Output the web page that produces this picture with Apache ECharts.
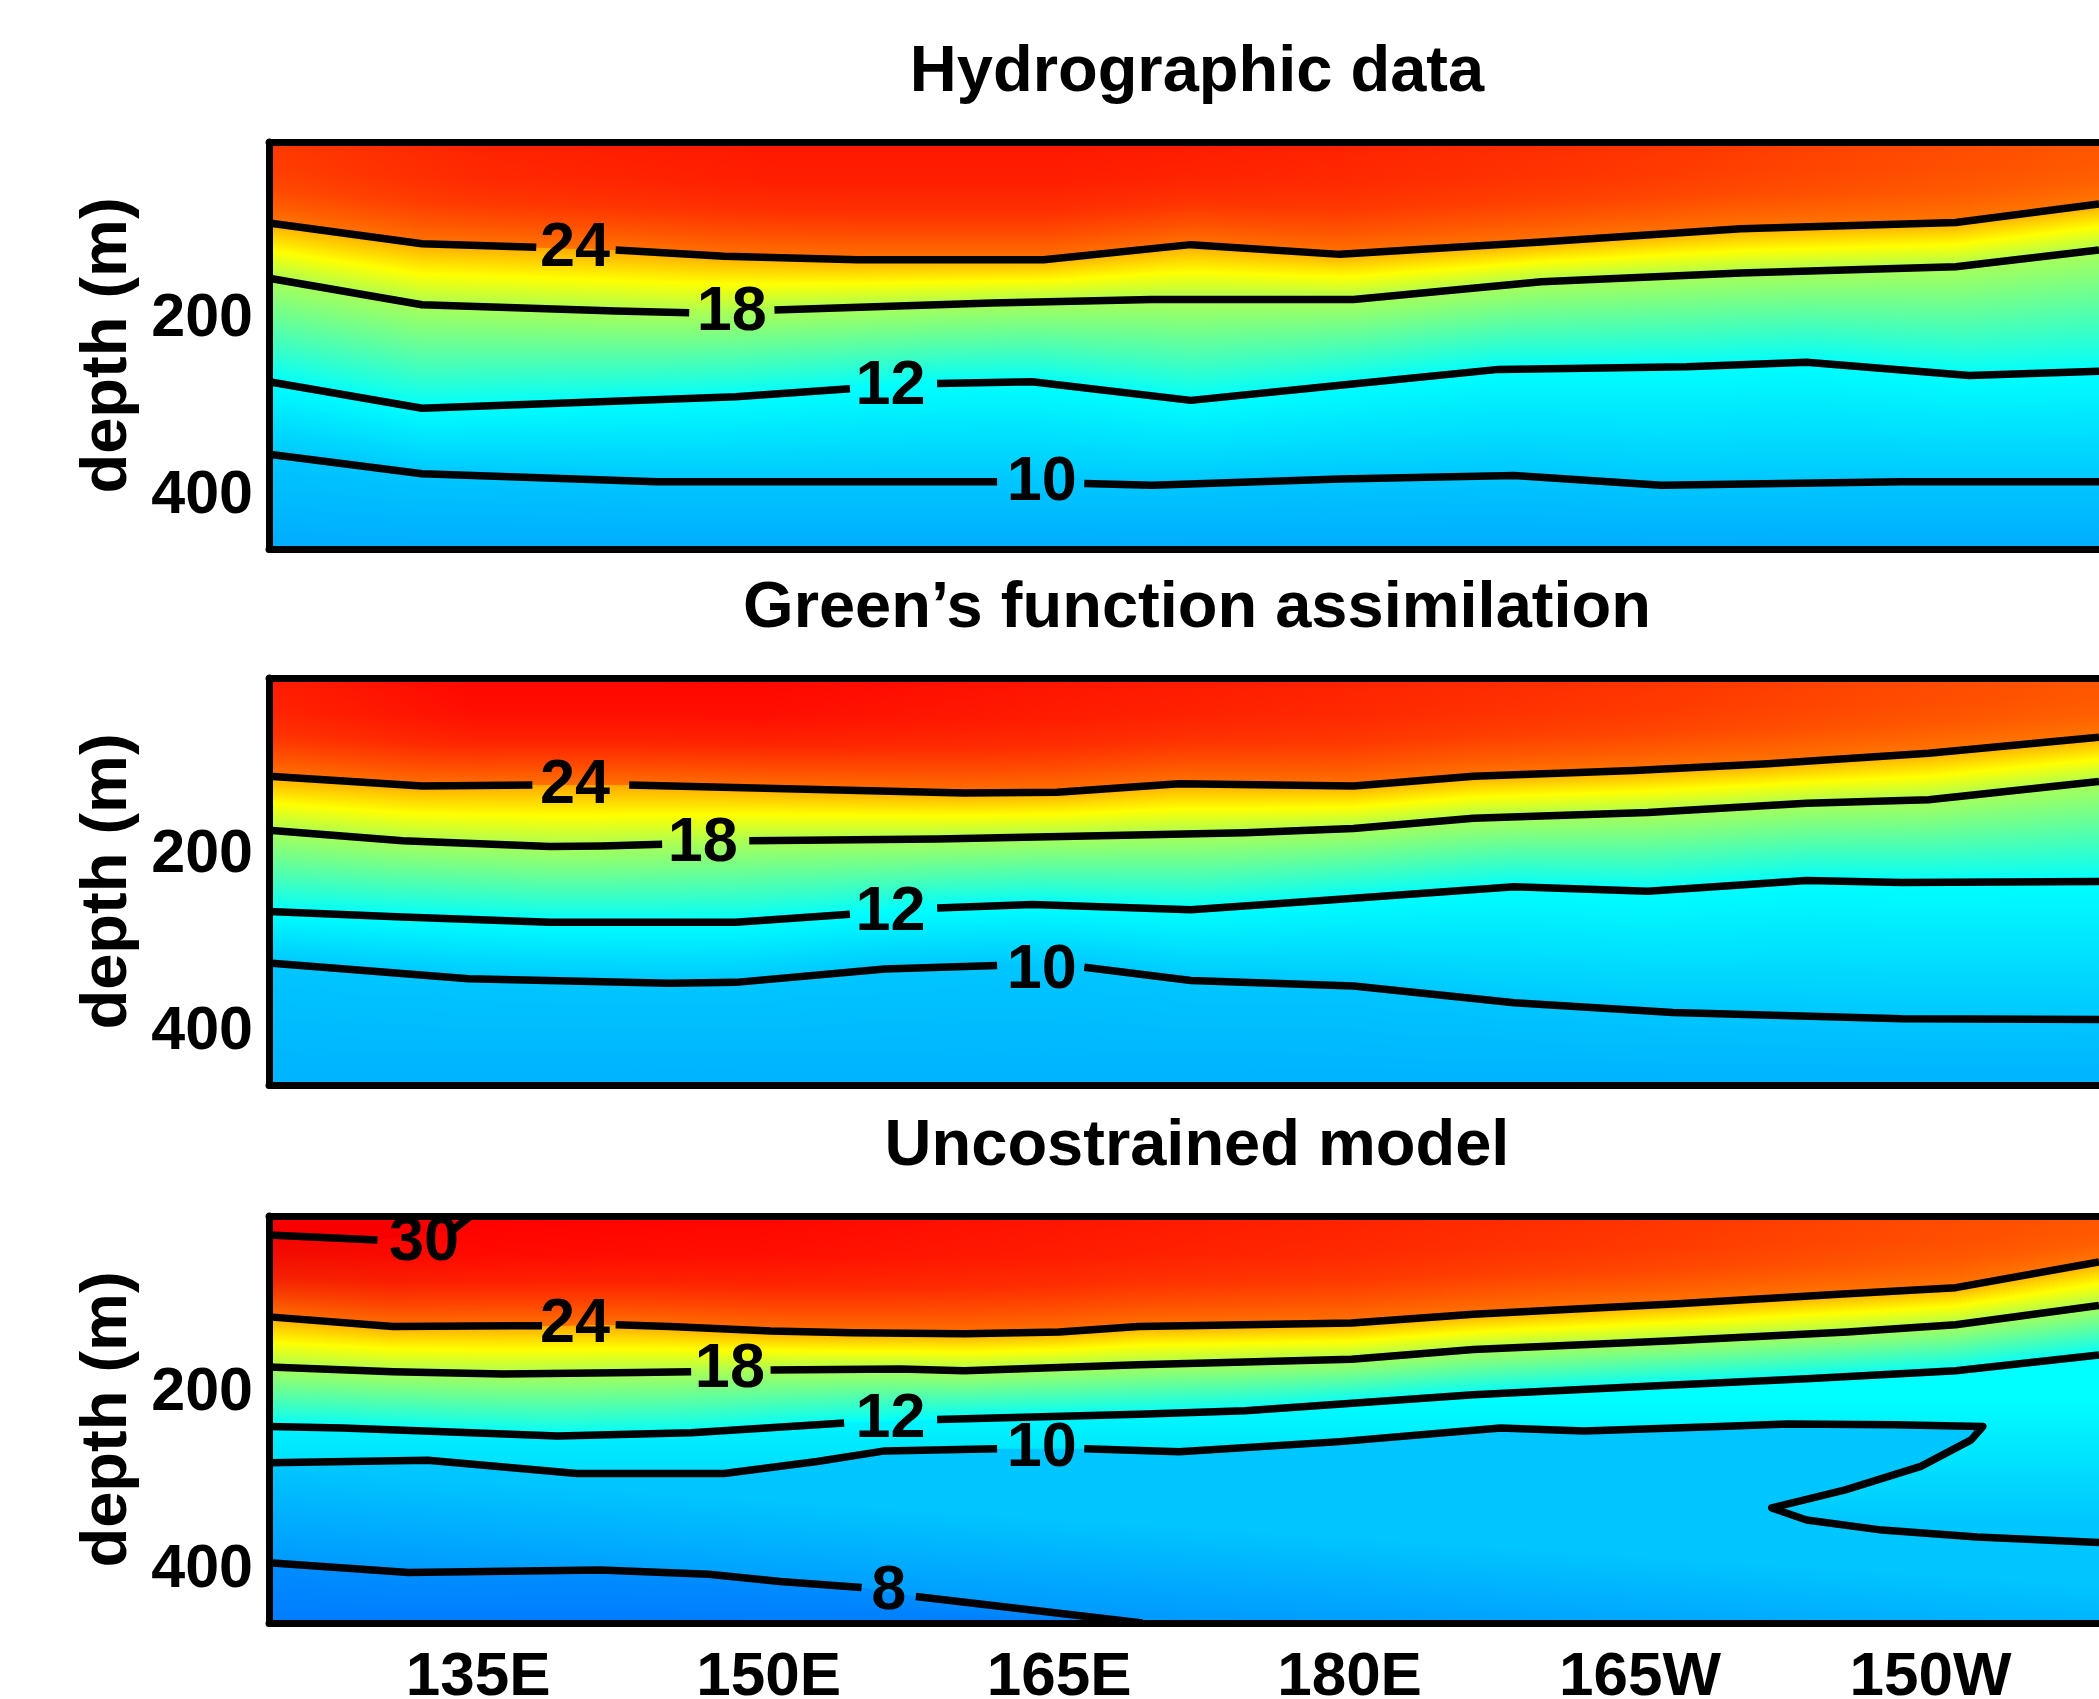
<!DOCTYPE html>
<html>
<head>
<meta charset="utf-8">
<script src="https://cdn.jsdelivr.net/npm/echarts@6/dist/echarts.min.js"></script>
<style>
html,body{margin:0;padding:0;background:#ffffff;}
#chart{width:2099px;height:1699px;}
</style>
</head>
<body>
<div id="chart"></div>
<script>
// ---------------- data ----------------
const LON_MIN = 124.2, LON_MAX = 218.7, DEPTH_MAX = 460;
const xTickValues = [135, 150, 165, 180, 195, 210];
const xTickLabels = ['135E', '150E', '165E', '180E', '165W', '150W'];
const depthTickValues = [200, 400];
const panelTitles = ['Hydrographic data', 'Green\u2019s function assimilation', 'Uncostrained model'];

// surface temperature estimated from the colour along the top edge
const sstLons = [124.2, 135, 150, 165, 180, 195, 210, 218.7];
const p1Sst = [28.0, 28.8, 29.2, 29.2, 28.8, 28.2, 27.4, 27.0];
const p2Sst = [29.0, 29.8, 29.8, 29.3, 28.8, 28.2, 27.4, 27.0];
const p3Sst = [30.5, 30.0, 29.8, 29.3, 28.8, 28.2, 27.4, 27.0];
// temperature at the bottom edge (460 m)
const p1BottomT = 9.1, p2BottomT = 9.3, p3BottomT = 7.4;

// isotherms: [longitude (deg E), depth (m)]; null = gap under the contour label
const p1Iso24 = [[124.2,91.5],[132.1,115],[138,119],null,[142.1,122],[147.7,129],[154.6,133],[164.2,133],[171.8,116],[179.5,127],[189.9,113],[200.2,98],[211.3,91],[218.7,70]];
const p1Iso18 = [[124.2,154],[132.1,184],[142.1,191],[145.9,193],null,[150.3,190],[161.5,182],[169.8,178],[180.2,178],[189.9,158],[200.2,148],[211.3,141],[218.7,122]];
const p1Iso12 = [[124.2,271],[132.1,301],[148.3,288],[154.2,279],null,[158.7,273],[163.6,271],[171.8,292],[179.5,275],[187.7,257],[197.4,254],[203.6,249],[212,264],[218.7,259]];
const p1Iso10 = [[124.2,353],[132.1,375],[144.2,384],[161.8,384],null,[166.3,386],[169.8,388],[179.5,381],[188.5,377],[196.1,388],[208.5,384],[218.7,384]];
const p1Labels = [[140.0,121,'24'],[148.1,193,'18'],[156.3,277,'12'],[164.1,385,'10']];

const p2Iso24 = [[124.2,111],[132.1,122],[137.8,121],null,[142.8,121],[152.5,126],[160.1,130],[164.9,129],[171.2,119.5],[180.2,122],[186.4,111],[194.7,104.5],[201.6,97],[209.9,85],[218.7,67]];
const p2Iso18 = [[124.2,172],[131.1,184],[138.7,190.5],[141.4,190],[144.5,188],null,[149,184],[158.7,182],[167.7,178],[174.6,175],[180.2,170],[186.4,158.5],[195.4,152],[203.6,141.6],[209.9,137.5],[218.7,117]];
const p2Iso12 = [[124.2,264],[131.1,270],[138.7,276],[148.3,276],[154.2,267],null,[158.7,260],[163.6,256],[171.8,262],[179.5,250],[188.5,236],[195.4,241],[203.6,229],[208.5,231],[218.7,230]];
const p2Iso10 = [[124.2,322],[134.5,340],[144.9,345],[148.3,344],[156,329],[161.8,325],null,[166.3,327],[171.8,342],[180.2,348],[188.5,367],[196.7,378],[208.5,385],[218.7,386]];
const p2Labels = [[140.0,122,'24'],[146.6,187,'18'],[156.3,265,'12'],[164.1,331,'10']];

const p3Iso30 = [[124.2,21.5],[129.8,27],null,[133.7,16],[134.6,0]];
const p3Iso24 = [[124.2,114],[130.6,125],[136.8,124],[138.3,124],null,[142.1,123],[144.9,125],[150.1,130],[154.3,132],[160.1,133],[165,131],[169.1,125],[180.1,121],[186.4,111],[196.7,99.5],[205.7,88],[211.3,81],[218.7,52]];
const p3Iso18 = [[124.2,170.6],[130.6,176],[136.3,178.5],[143.2,177],[146,176],null,[150.1,174],[156.8,173],[160.1,175],[169.1,168],[174.6,165],[180.1,162],[186.4,151],[196.7,141],[205.7,131],[211.3,123],[218.7,101]];
const p3Iso12 = [[124.2,238],[128,239.5],[133.6,244],[139.1,248.6],[146,245],[152.5,236],[153.9,234],null,[158.7,230],[169.1,224],[174.6,220],[186.4,202],[196.7,191],[203.6,184],[211.3,175],[218.7,157]];
const p3Iso10 = [[124.2,279],[132.4,276],[140.1,291],[147.7,291],[152.5,277.5],[156,265.5],[161.8,263],null,[166.3,263],[171.2,266.5],[179.5,255],[187.8,239.5],[192.1,243],[199.1,238],[202.6,235],[208.1,236],[212.7,238],[212.1,253],[209.5,283],[205.6,309.6],[201.8,330],[203.6,343.5],[207.5,355],[212.4,362.7],[218.7,369]];
const p3Iso8 = [[124.2,392],[131.4,403],[141.3,400],[146.9,405],[150.6,413],[154.8,420],null,[157.6,430],[169.3,460]];
const p3Labels = [[132.2,30,'30'],[140.0,123,'24'],[148.0,174,'18'],[156.3,230,'12'],[164.1,263,'10'],[156.2,424,'8']];

// ---------------- layout / style ----------------
const panelTops = [142, 678, 1216];
const PANEL_H = 407, GRID_LEFT = 269;
const FONT = '"Liberation Sans", Arial, Helvetica, sans-serif';
const FRAME_W = 7, CONTOUR_W = 7.5;
const STRIP_PX = 5;

function jetRGB(T) {
  const f = (T + 1.5) / 36;
  const c = v => Math.round(255 * Math.max(0, Math.min(1, v)));
  return [c(Math.min(4 * f - 1.5, -4 * f + 4.5)), c(Math.min(4 * f - 0.5, -4 * f + 3.5)), c(Math.min(4 * f + 0.5, -4 * f + 2.5))];
}
function jet(T, a) {
  const [r, g, b] = jetRGB(T);
  return a === undefined ? `rgb(${r},${g},${b})` : `rgba(${r},${g},${b},${a})`;
}
function jetStops(tA, tB) {
  const n = 10, stops = [];
  for (let k = 0; k <= n; k++) stops.push({ offset: k / n, color: jet(tA + (tB - tA) * k / n) });
  return stops;
}
// depth of a drawn isotherm under a given longitude (used only to place colour-gradient anchors)
function depthUnder(line, lon) {
  for (let k = 0; k < line.length - 1; k++) {
    const [x0, d0] = line[k], [x1, d1] = line[k + 1];
    if (x0 !== x1 && (lon - x0) * (lon - x1) <= 0) return d0 + (d1 - d0) * (lon - x0) / (x1 - x0);
  }
  return lon < line[0][0] ? line[0][1] : line[line.length - 1][1];
}

const panels = [
  { sst: p1Sst, bottomT: p1BottomT, labels: p1Labels, isotherms: [[24, p1Iso24], [18, p1Iso18], [12, p1Iso12], [10, p1Iso10]], shade: {} },
  { sst: p2Sst, bottomT: p2BottomT, labels: p2Labels, isotherms: [[24, p2Iso24], [18, p2Iso18], [12, p2Iso12], [10, p2Iso10]], shade: {} },
  { sst: p3Sst, bottomT: p3BottomT, labels: p3Labels, warmCap: [30, p3Iso30], isotherms: [[24, p3Iso24], [18, p3Iso18], [12, p3Iso12], [10, p3Iso10], [8, p3Iso8]],
    shade: { 12: { a: [LON_MIN, 205, 12], b: [LON_MIN, 345, 10] }, 10: { a: [190, 374, 10], b: [189.6, 511, 8] } } }
];

function buildLayers(p) {
  const layers = [{ kind: 'bg' }, { kind: 'fade', line: p.isotherms[0][1].filter(Boolean), t: 25.6 }];
  p.isotherms.forEach(([t, line], k) => {
    const next = p.isotherms[k + 1];
    layers.push({ kind: 'below', line: line.filter(Boolean), tA: t,
      lineB: next ? next[1].filter(Boolean) : null, tB: next ? next[0] : p.bottomT, override: p.shade[t] || null });
  });
  if (p.warmCap) layers.push({ kind: 'above', line: p.warmCap[1].filter(Boolean), t: p.warmCap[0] });
  return layers;
}

const FADE = [[0, 0], [0.35, 0.08], [0.6, 0.25], [0.8, 0.55], [1, 0.9]];

// walk along an isotherm in narrow pixel strips; cb(xL, xR, yL, yR, lonMid)
function eachStrip(api, line, cb) {
  for (let k = 0; k < line.length - 1; k++) {
    const p0 = api.coord(line[k]), p1 = api.coord(line[k + 1]);
    const span = p1[0] - p0[0];
    if (span <= 0) continue;
    const n = Math.max(1, Math.ceil(span / STRIP_PX));
    for (let j = 0; j < n; j++) {
      const fL = j / n, fR = (j + 1) / n;
      const xL = Math.round(p0[0] + span * fL), xR = Math.round(p0[0] + span * fR);
      if (xR <= xL) continue;
      const yL = p0[1] + (p1[1] - p0[1]) * fL, yR = p0[1] + (p1[1] - p0[1]) * fR;
      const lonMid = line[k][0] + (line[k + 1][0] - line[k][0]) * (fL + fR) / 2;
      cb(xL, xR, yL, yR, lonMid);
    }
  }
}

function fillRenderer(p, layers) {
  return function (params, api) {
    const L = layers[params.dataIndex];
    const tl = api.coord([LON_MIN, 0]);
    const br = api.coord([LON_MAX, DEPTH_MAX]);
    if (L.kind === 'bg') {
      const stops = p.sst.map((t, i) => ({ offset: (sstLons[i] - LON_MIN) / (LON_MAX - LON_MIN), color: jet(t) }));
      return { type: 'rect', shape: { x: tl[0], y: tl[1], width: br[0] - tl[0], height: br[1] - tl[1] },
        style: { fill: { type: 'linear', x: tl[0], y: 0, x2: br[0], y2: 0, global: true, colorStops: stops } } };
    }
    if (L.kind === 'fade') {
      const children = [];
      const stops = FADE.map(([o, a]) => ({ offset: o, color: jet(L.t, a) }));
      eachStrip(api, L.line, (xL, xR, yL, yR) => {
        children.push({ type: 'polygon', shape: { points: [[xL, tl[1]], [xR, tl[1]], [xR, yR], [xL, yL]] },
          style: { fill: { type: 'linear', x: 0, y: tl[1], x2: 0, y2: (yL + yR) / 2, global: true, colorStops: stops } } });
      });
      return { type: 'group', children };
    }
    if (L.kind === 'below') {
      if (L.override) {
        const pts = L.line.map(q => api.coord(q));
        const last = L.line[L.line.length - 1];
        pts.push(api.coord([last[0], DEPTH_MAX]));
        pts.push(api.coord([LON_MIN, DEPTH_MAX]));
        const a = L.override.a, b = L.override.b;
        const A = api.coord([a[0], a[1]]), B = api.coord([b[0], b[1]]);
        return { type: 'polygon', shape: { points: pts },
          style: { fill: { type: 'linear', x: A[0], y: A[1], x2: B[0], y2: B[1], global: true, colorStops: jetStops(a[2], b[2]) } } };
      }
      const children = [];
      const stops = jetStops(L.tA, L.tB);
      eachStrip(api, L.line, (xL, xR, yL, yR, lonMid) => {
        const yA = (yL + yR) / 2;
        const dB = L.lineB ? depthUnder(L.lineB, lonMid) : DEPTH_MAX;
        const yB = Math.max(api.coord([lonMid, dB])[1], yA + 4);
        children.push({ type: 'polygon', shape: { points: [[xL, yL], [xR, yR], [xR, br[1]], [xL, br[1]]] },
          style: { fill: { type: 'linear', x: 0, y: yA, x2: 0, y2: yB, global: true, colorStops: stops } } });
      });
      return { type: 'group', children };
    }
    if (L.kind === 'above') {
      const pts = L.line.map(q => api.coord(q));
      pts.push(api.coord([LON_MIN, 0]));
      return { type: 'polygon', shape: { points: pts }, style: { fill: jet(L.t + 0.2) } };
    }
    return null;
  };
}

function labelRenderer(p) {
  return function (params, api) {
    const l = p.labels[params.dataIndex];
    const pt = api.coord([l[0], l[1]]);
    return { type: 'text', x: pt[0], y: pt[1],
      style: { text: l[2], fill: '#000', fontSize: 63, fontWeight: 'bold', fontFamily: FONT, align: 'center', verticalAlign: 'middle' } };
  };
}

const grid = [], xAxis = [], yAxis = [], series = [], title = [];
panels.forEach((p, i) => {
  grid.push({ left: GRID_LEFT, right: 0, top: panelTops[i], height: PANEL_H, containLabel: false, outerBoundsMode: 'none' });
  title.push({ text: panelTitles[i], left: 1192, top: panelTops[i] - 106, textAlign: 'center',
    textStyle: { fontSize: 65, fontWeight: 'bold', fontFamily: FONT, color: '#000', lineHeight: 65 } });
  const frameLine = { show: true, onZero: false, lineStyle: { color: '#000', width: FRAME_W } };
  xAxis.push({ type: 'value', gridIndex: i, position: 'bottom', min: LON_MIN, max: LON_MAX, z: 10,
    axisLine: frameLine, axisTick: { show: false }, splitLine: { show: false },
    axisLabel: i === 2 ? { show: true, customValues: xTickValues, formatter: v => xTickLabels[xTickValues.indexOf(v)] || '',
      fontSize: 62, fontWeight: 'bold', fontFamily: FONT, color: '#000', margin: 24 } : { show: false } });
  xAxis.push({ type: 'value', gridIndex: i, position: 'top', min: LON_MIN, max: LON_MAX, z: 10,
    axisLine: frameLine, axisTick: { show: false }, splitLine: { show: false }, axisLabel: { show: false } });
  yAxis.push({ type: 'value', gridIndex: i, inverse: true, min: 0, max: DEPTH_MAX, z: 10,
    name: 'depth (m)', nameLocation: 'middle', nameGap: 128, nameRotate: 90,
    nameTextStyle: { fontSize: 65, fontWeight: 'bold', fontFamily: FONT, color: '#000' },
    axisLine: frameLine, axisTick: { show: false }, splitLine: { show: false },
    axisLabel: { show: true, customValues: depthTickValues, fontSize: 61, fontWeight: 'bold', fontFamily: FONT, color: '#000', margin: 16 } });

  const layers = buildLayers(p);
  series.push({ type: 'custom', name: 'fill' + (i + 1), xAxisIndex: 2 * i, yAxisIndex: i, coordinateSystem: 'cartesian2d',
    clip: true, silent: true, z: 1, renderItem: fillRenderer(p, layers), data: layers.map((_, k) => [LON_MIN, 0, k]) });
  const allLines = (p.warmCap ? [p.warmCap] : []).concat(p.isotherms);
  allLines.forEach(([t, line]) => {
    series.push({ type: 'line', name: 'T' + t + '-p' + (i + 1), xAxisIndex: 2 * i, yAxisIndex: i, z: 3, silent: true,
      symbol: 'none', showSymbol: false, connectNulls: false, clip: true,
      lineStyle: { color: '#000', width: CONTOUR_W, join: 'round' },
      data: line.map(q => q ? q : ['-', '-']) });
  });
  series.push({ type: 'custom', name: 'labels' + (i + 1), xAxisIndex: 2 * i, yAxisIndex: i, coordinateSystem: 'cartesian2d',
    clip: false, silent: true, z: 4, renderItem: labelRenderer(p), data: p.labels.map(l => [l[0], l[1]]) });
});

const chart = echarts.init(document.getElementById('chart'), null, { renderer: 'canvas' });
chart.setOption({ backgroundColor: '#ffffff', animation: false, title, grid, xAxis, yAxis, series });
</script>
</body>
</html>
